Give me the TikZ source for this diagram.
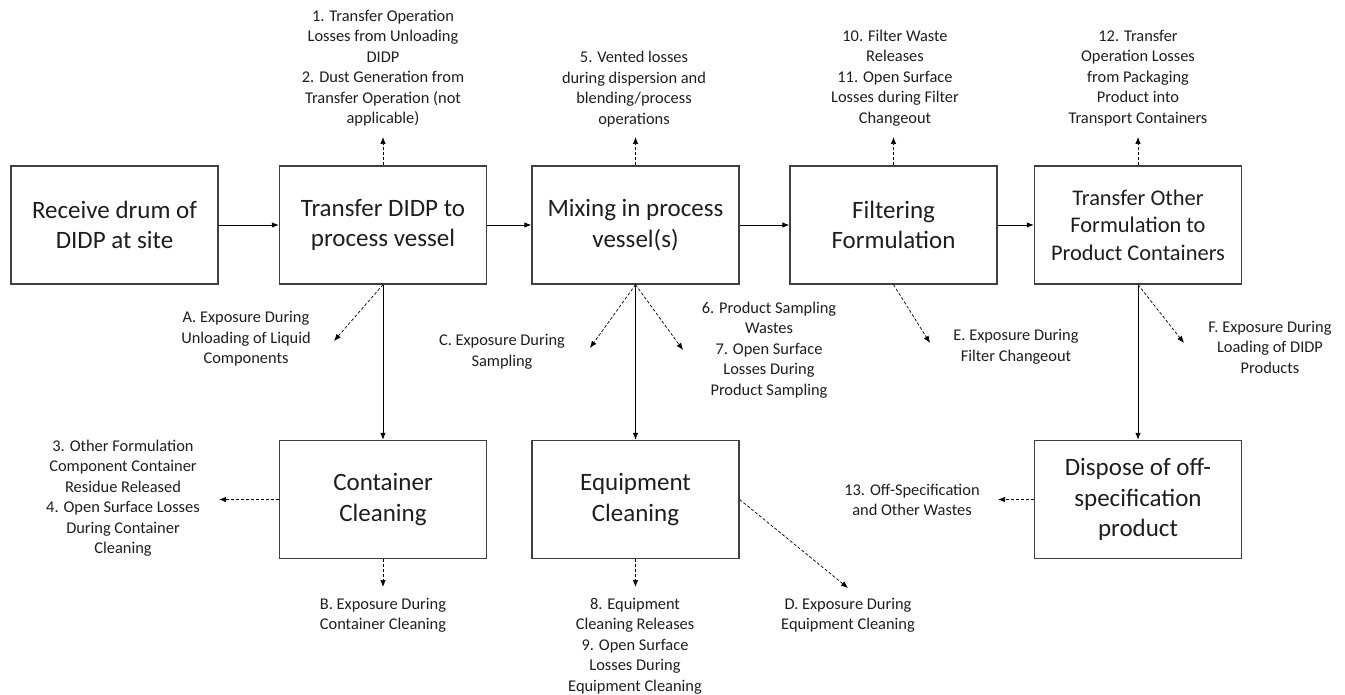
\documentclass[tikz,border=0pt]{standalone}
\usepackage{fontspec}
\setmainfont{Carlito}
\usetikzlibrary{arrows.meta}
\definecolor{ink}{HTML}{1E1E1E}
\definecolor{frame}{HTML}{404040}
\tikzset{
  stepbox/.style={draw=frame, line width=1.3pt, minimum width=207pt, minimum height=118pt,
    inner sep=0pt, align=center, text=ink, font=\fontsize{25}{30.5}\selectfont},
  smallstep/.style={font=\fontsize{22.4}{27.5}\selectfont},
  note/.style={align=center, inner sep=0pt, text=ink, font=\fontsize{16.4}{20.5}\selectfont},
  flow/.style={draw=black, line width=0.9pt, -{Latex[length=7pt,width=5.5pt]}},
  release/.style={draw=black, line width=0.7pt, dash pattern=on 3pt off 2pt,
    -{Latex[length=7pt,width=5.5pt]}}
}
\begin{document}
\begin{tikzpicture}[x=1pt,y=-1pt]
\useasboundingbox (0,0) rectangle (1345,695);

% process steps, top row
\node[stepbox] (b1) at (114.5,225) {Receive drum of\\DIDP at site};
\node[stepbox] (b2) at (383,225)   {Transfer DIDP to\\process vessel};
\node[stepbox] (b3) at (635.5,225) {Mixing in process\\vessel(s)};
\node[stepbox] (b4) at (893.5,225) {Filtering\\Formulation};
\node[stepbox,smallstep] (b5) at (1138,225) {Transfer Other\\Formulation to\\Product Containers};

% process steps, bottom row
\node[stepbox] (cc) at (383,499.5)  {Container\\Cleaning};
\node[stepbox] (ec) at (635.5,499.5){Equipment\\Cleaning};
\node[stepbox] (dp) at (1138,499.5) {Dispose of off-\\specification\\product};

% release and exposure notes
\node[note] (n12) at (383,68)   {1. Transfer Operation\\Losses from Unloading\\DIDP\\2. Dust Generation from\\Transfer Operation (not\\applicable)};
\node[note] (n5)  at (634,89)   {5. Vented losses\\during dispersion and\\blending/process\\operations};
\node[note] (n10) at (895,78)   {10. Filter Waste\\Releases\\11. Open Surface\\Losses during Filter\\Changeout};
\node[note] (n12b) at (1138,78) {12. Transfer\\Operation Losses\\from Packaging\\Product into\\Transport Containers};
\node[note] (nA)  at (246,339)  {A. Exposure During\\Unloading of Liquid\\Components};
\node[note] (nC)  at (502,352)  {C. Exposure During\\Sampling};
\node[note] (n67) at (769,350)  {6. Product Sampling\\Wastes\\7. Open Surface\\Losses During\\Product Sampling};
\node[note] (nE)  at (1016,347) {E. Exposure During\\Filter Changeout};
\node[note] (nF)  at (1270,347) {F. Exposure During\\Loading of DIDP\\Products};
\node[note] (n34) at (123,498)  {3. Other Formulation\\Component Container\\Residue Released\\4. Open Surface Losses\\During Container\\Cleaning};
\node[note] (nB)  at (383,615.5){B. Exposure During\\Container Cleaning};
\node[note] (n89) at (635,646)  {8. Equipment\\Cleaning Releases\\9. Open Surface\\Losses During\\Equipment Cleaning};
\node[note] (nD)  at (848,615.5){D. Exposure During\\Equipment Cleaning};
\node[note] (n13) at (912,500)  {13. Off-Specification\\and Other Wastes};

% arrow tips of the release connectors
\coordinate (t12)  at (383,137);
\coordinate (t5)   at (635.5,137);
\coordinate (t10)  at (893.5,137);
\coordinate (t12b) at (1138,137);
\coordinate (tA)   at (334,341);
\coordinate (tC)   at (590,348);
\coordinate (t67)  at (683,350);
\coordinate (tE)   at (930,343);
\coordinate (tF)   at (1184,343);
\coordinate (t34)  at (219,499.5);
\coordinate (tB)   at (383,587);
\coordinate (t89)  at (635.5,587);
\coordinate (tD)   at (848,588);
\coordinate (t13)  at (998,499.5);

% main material flow
\draw[flow] (b1.east) -- (b2.west);
\draw[flow] (b2.east) -- (b3.west);
\draw[flow] (b3.east) -- (b4.west);
\draw[flow] (b4.east) -- (b5.west);
\draw[flow] (b2.south) -- (cc.north);
\draw[flow] (b3.south) -- (ec.north);
\draw[flow] (b5.south) -- (dp.north);

% releases and exposures
\draw[release] (b2.north) -- (t12);
\draw[release] (b3.north) -- (t5);
\draw[release] (b4.north) -- (t10);
\draw[release] (b5.north) -- (t12b);
\draw[release] (b2.south) -- (tA);
\draw[release] (b3.south) -- (tC);
\draw[release] (b3.south) -- (t67);
\draw[release] (b4.south) -- (tE);
\draw[release] (b5.south) -- (tF);
\draw[release] (cc.west) -- (t34);
\draw[release] (cc.south) -- (tB);
\draw[release] (ec.south) -- (t89);
\draw[release] (ec.east) -- (tD);
\draw[release] (dp.west) -- (t13);
\end{tikzpicture}
\end{document}
